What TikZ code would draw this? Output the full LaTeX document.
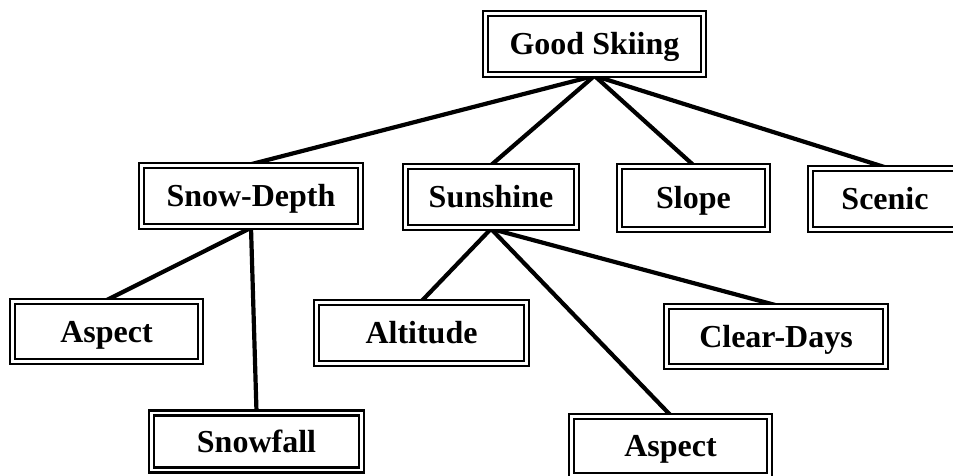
\documentclass[tikz,border=0pt]{standalone}
\usepackage{fontspec}
\setmainfont{Liberation Serif}
\usetikzlibrary{backgrounds}
\tikzset{
  box/.style={draw=black, double=white, double distance=2.4pt, line width=2.6pt,
    fill=white, inner sep=0pt, text=black, text height=21.5pt, text depth=0pt,
    font=\fontsize{32}{32}\selectfont\bfseries},
  link/.style={draw=black, line width=4.2pt}
}
\begin{document}
\begin{tikzpicture}[x=1pt,y=-1pt]
\useasboundingbox (0,0) rectangle (953,476);
\node[box, minimum width=218pt, minimum height=61pt] (good) at (594.5,44) {Good Skiing};
\node[box, minimum width=219pt, minimum height=61pt] (snowdepth) at (251,196) {Snow-Depth};
\node[box, minimum width=171pt, minimum height=61pt] (sunshine) at (491,197) {Sunshine};
\node[box, minimum width=148pt, minimum height=63pt] (slope) at (693.5,198) {Slope};
\node[box, minimum width=149pt, minimum height=61pt] (scenic) at (885,199) {Scenic};
\node[box, minimum width=188pt, minimum height=60pt] (aspectA) at (106.5,331.5) {Aspect};
\node[box, minimum width=210pt, minimum height=61pt] (altitude) at (421.5,333) {Altitude};
\node[box, minimum width=219pt, minimum height=60pt] (cleardays) at (776,336.5) {Clear-Days};
\node[box, minimum width=210pt, minimum height=57pt] (snowfall) at (256.5,441.5) {Snowfall};
\node[box, minimum width=198pt, minimum height=59pt] (aspectB) at (670.5,446) {Aspect};
\begin{scope}[on background layer]
\draw[link] (good.south) -- (snowdepth.north);
\draw[link] (good.south) -- (sunshine.north);
\draw[link] (good.south) -- (slope.north);
\draw[link] (good.south) -- (scenic.north);
\draw[link] (snowdepth.south) -- (aspectA.north);
\draw[link] (snowdepth.south) -- (snowfall.north);
\draw[link] (sunshine.south) -- (altitude.north);
\draw[link] (sunshine.south) -- (aspectB.north);
\draw[link] (sunshine.south) -- (cleardays.north);
\end{scope}
\end{tikzpicture}
\end{document}
